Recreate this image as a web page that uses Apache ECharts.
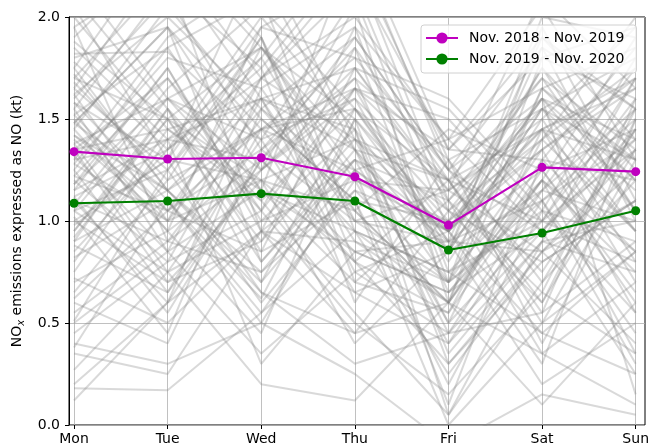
<!DOCTYPE html>
<html><head><meta charset="utf-8">
<script src="https://cdn.jsdelivr.net/npm/echarts@6/dist/echarts.min.js"></script>
<style>html,body{margin:0;padding:0;background:#fff}#c{width:652px;height:448px}</style>
</head><body><div id="c"></div>
<script>
const days = ['Mon','Tue','Wed','Thu','Fri','Sat','Sun'];
const yTicks = [0, 0.5, 1.0, 1.5, 2.0];
const nameA = 'Nov. 2018 - Nov. 2019';
const nameB = 'Nov. 2019 - Nov. 2020';
const seriesA = [1.340, 1.304, 1.310, 1.217, 0.980, 1.263, 1.242];
const seriesB = [1.087, 1.098, 1.134, 1.098, 0.858, 0.941, 1.050];
// individual weekly profiles (gray background lines)
const weeks = [
[1.82,1.83,1.40,2.10,0.95,1.60,1.20],
[0.12,0.60,1.30,0.80,1.20,0.55,1.60],
[0.18,0.17,0.55,1.20,0.40,0.90,1.70],
[0.27,0.75,0.20,0.12,0.60,0.10,0.60],
[0.38,1.10,0.62,1.50,0.30,0.85,0.40],
[0.35,0.25,0.95,0.45,1.05,1.60,0.15],
[0.51,1.25,1.90,0.70,0.55,1.40,0.95],
[1.95,0.90,1.50,1.10,0.20,1.05,1.80],
[2.05,1.30,2.30,1.40,1.20,0.50,1.30],
[1.70,2.20,0.95,1.85,0.70,1.95,1.10],
[1.55,0.85,1.70,2.25,1.10,0.65,1.55],
[1.48,1.95,0.80,1.30,0.50,1.45,0.70],
[1.25,1.85,2.10,0.95,0.75,1.20,0.35],
[1.10,0.60,1.65,1.95,1.40,2.05,1.30],
[0.95,1.55,0.70,1.25,0.10,1.30,0.85],
[0.85,1.35,1.75,0.60,1.30,0.40,1.25],
[1.35,0.70,1.20,0.40,0.85,1.55,0.95],
[1.60,2.10,1.35,1.70,0.65,1.20,1.90],
[1.02,0.45,1.55,1.90,1.25,0.75,1.45],
[0.75,1.40,0.30,0.85,0.90,0.20,0.50],
[1.15,1.75,1.00,1.45,0.35,0.90,0.75],
[1.40,1.00,1.85,1.25,0.95,1.75,1.05],
[1.88,1.50,0.90,1.65,1.50,1.00,1.70],
[1.20,0.80,1.60,0.90,0.70,1.35,0.55],
[0.65,1.20,1.45,0.95,0.25,0.85,1.35],
[1.75,1.15,0.70,1.55,1.20,0.60,1.50],
[1.30,1.90,2.20,1.35,0.85,1.85,1.00],
[0.90,1.55,0.85,1.75,1.15,1.50,0.80],
[1.05,1.60,1.10,0.55,0.05,0.70,1.20],
[1.50,0.95,1.95,1.80,1.60,1.10,0.45],
[2.20,1.60,1.25,2.05,0.60,1.65,1.85],
[1.65,1.25,1.80,2.40,1.35,1.90,1.40],
[0.80,1.45,1.60,0.75,0.95,0.45,0.25],
[1.45,2.05,1.50,1.10,1.00,1.45,1.65],
[1.12,0.55,1.30,0.85,0.65,1.15,1.75],
[1.58,1.10,0.50,1.25,1.40,0.95,1.55],
[0.70,0.95,0.45,1.50,0.90,1.25,0.60],
[1.90,2.35,1.85,1.35,1.20,1.70,1.05],
[1.22,1.70,1.05,1.95,0.75,1.00,1.35],
[0.98,1.30,0.65,0.30,0.45,0.55,0.90],
[1.38,0.75,1.40,1.60,0.80,1.50,1.95],
[1.68,1.20,1.90,0.80,0.55,1.20,0.85],
[1.08,1.65,2.05,1.55,1.05,0.80,1.10],
[1.52,1.85,1.15,0.95,0.60,1.80,1.60],
[0.88,0.65,1.25,1.70,1.30,0.70,1.45],
[1.28,1.00,1.55,1.05,1.45,1.25,0.65],
[2.10,1.55,1.05,1.65,0.85,2.00,1.90],
[1.18,1.75,0.95,0.65,0.40,1.10,1.50],
[0.60,0.40,1.35,1.85,1.20,1.45,0.95],
[1.42,1.05,1.70,2.15,1.05,0.60,1.35],
[1.62,2.00,1.55,1.20,0.95,1.40,1.75],
[0.92,1.50,0.80,1.35,0.70,1.65,1.20],
[1.32,0.85,1.15,0.70,1.10,0.35,0.70],
[1.78,1.35,2.00,1.45,0.85,1.55,1.15],
[1.00,0.70,0.90,1.40,0.50,1.00,1.60],
[1.48,1.95,1.25,1.60,1.15,0.85,1.25],
[1.15,1.40,1.80,1.05,0.60,1.30,1.85],
[0.55,0.90,0.75,1.15,0.70,1.10,0.30],
[1.85,1.40,1.30,1.90,1.25,1.85,1.55],
[1.25,0.65,1.45,1.55,0.90,0.85,1.10],
[1.55,2.15,1.75,2.30,1.30,1.55,1.80],
[0.45,0.80,1.05,0.50,0.15,0.65,0.35],
[1.05,1.25,0.60,1.15,0.95,1.60,1.05],
[1.35,1.70,1.15,0.85,0.65,0.95,1.40],
[1.72,1.15,1.60,1.35,0.45,1.15,1.55],
[0.95,1.50,1.85,1.20,1.00,1.75,1.25],
[1.45,0.95,1.30,1.75,1.55,1.05,0.55],
[2.00,1.45,1.10,1.55,0.95,1.35,1.70],
[1.12,1.35,1.70,2.00,1.40,1.65,1.30],
[0.82,1.10,0.55,0.95,0.75,0.45,0.85],
[1.62,1.00,1.20,1.40,1.05,1.40,2.00],
[1.28,1.80,1.65,1.00,0.70,1.05,0.90],
[0.20,0.60,0.95,1.30,0.95,0.30,1.50],
[1.95,2.25,1.60,1.75,1.10,1.70,1.35],
[1.05,0.75,1.00,1.20,1.15,1.45,1.70],
[1.38,1.60,1.40,0.65,0.85,1.15,1.00],
[1.58,1.30,1.95,2.20,1.35,1.30,1.20],
[0.72,0.50,0.95,0.90,0.60,1.20,0.75],
[1.22,1.05,1.35,1.00,0.90,1.90,1.55],
[1.80,1.95,1.45,1.80,1.25,0.95,1.45],
[1.00,1.30,1.20,0.80,0.30,0.80,1.10],
[1.42,1.15,0.75,1.30,1.10,1.55,1.30],
[1.18,1.60,1.85,1.50,1.00,1.35,1.65],
[1.52,1.05,1.45,1.65,1.20,1.00,0.80],
[0.90,1.15,1.45,1.25,0.90,1.10,1.40],
[1.70,1.50,1.20,1.05,0.60,1.25,1.45],
[1.30,1.40,1.60,1.45,0.05,0.90,1.00],
[0.62,1.05,0.85,1.10,0.00,0.50,0.85],
[1.10,0.90,1.25,1.65,1.35,1.80,1.95],
[1.65,2.30,1.70,1.40,0.95,1.45,1.30],
[1.35,1.45,1.15,2.35,1.25,1.60,1.40],
[1.48,1.15,0.65,0.45,0.60,0.35,0.10],
[0.40,0.30,0.50,0.25,-0.10,0.15,0.05],
[0.50,0.85,0.35,0.75,0.45,0.95,0.25],
[1.75,2.40,1.90,1.00,1.15,2.10,1.65]
];

const FONT = 'DejaVu Sans';
const chart = echarts.init(document.getElementById('c'), null, {renderer: 'canvas'});

const graySeries = weeks.map((w, i) => ({
  name: 'week' + i,
  type: 'line',
  xAxisIndex: 1, yAxisIndex: 1,
  data: w,
  symbol: 'none',
  silent: true,
  z: 2,
  lineStyle: {color: 'rgba(128,128,128,0.3)', width: 2}
}));

const mainSeries = [
  {name: nameA, data: seriesA, color: '#bf00bf'},
  {name: nameB, data: seriesB, color: '#008000'}
].map(s => ({
  name: s.name,
  type: 'line',
  xAxisIndex: 1, yAxisIndex: 1,
  data: s.data,
  symbol: 'circle',
  symbolSize: 9,
  showSymbol: true,
  z: 5,
  itemStyle: {color: s.color},
  lineStyle: {color: s.color, width: 2.2}
}));

chart.setOption({
  animation: false,
  textStyle: {fontFamily: FONT},
  grid: [
    {left: 69, right: 7, top: 17, bottom: 23, show: true, borderColor: '#000', borderWidth: 1, backgroundColor: 'transparent'},
    {left: 74, right: 12, top: 17, bottom: 23}
  ],
  legend: {
    data: [nameA, nameB],
    orient: 'vertical',
    left: 421, top: 25,
    itemWidth: 32, itemHeight: 14, itemGap: 7,
    padding: [6, 12, 7, 4],
    backgroundColor: 'rgba(255,255,255,0.8)',
    borderColor: '#d0d0d0', borderWidth: 1, borderRadius: 3,
    textStyle: {fontFamily: FONT, fontSize: 14, color: '#000', padding: [0, 0, 0, 6]}
  },
  xAxis: [
    {gridIndex: 0, type: 'value', min: 0, max: 1, show: false},
    {gridIndex: 1, type: 'category', data: days, boundaryGap: false,
     axisLine: {show: false},
     axisTick: {show: true, length: 4, lineStyle: {color: '#000'}},
     axisLabel: {color: '#000', fontSize: 14, fontFamily: FONT, margin: 7, interval: 0},
     splitLine: {show: true, lineStyle: {color: '#b0b0b0', width: 0.8}}}
  ],
  yAxis: [
    {gridIndex: 0, type: 'value', min: yTicks[0], max: yTicks[yTicks.length - 1], interval: 0.5,
     axisLine: {show: true, lineStyle: {color: '#000'}},
     axisTick: {show: true, length: 4, lineStyle: {color: '#000'}},
     axisLabel: {color: '#000', fontSize: 14, fontFamily: FONT, margin: 9, formatter: v => v.toFixed(1)},
     splitLine: {show: true, lineStyle: {color: '#b0b0b0', width: 0.8}},
     name: '{a|NO}{b|x}{a| emissions expressed as NO (kt)}',
     nameLocation: 'middle', nameGap: 43, nameRotate: 90,
     nameTextStyle: {
       rich: {
         a: {fontFamily: FONT, fontSize: 14, color: '#000', lineHeight: 17},
         b: {fontFamily: FONT, fontSize: 10, fontStyle: 'italic', color: '#000', lineHeight: 17, verticalAlign: 'bottom', padding: [5, 0, 0, 0]}
       }
     }},
    {gridIndex: 1, type: 'value', min: 0, max: 2, show: false, splitLine: {show: false}}
  ],
  series: graySeries.concat(mainSeries)
});
</script></body></html>
